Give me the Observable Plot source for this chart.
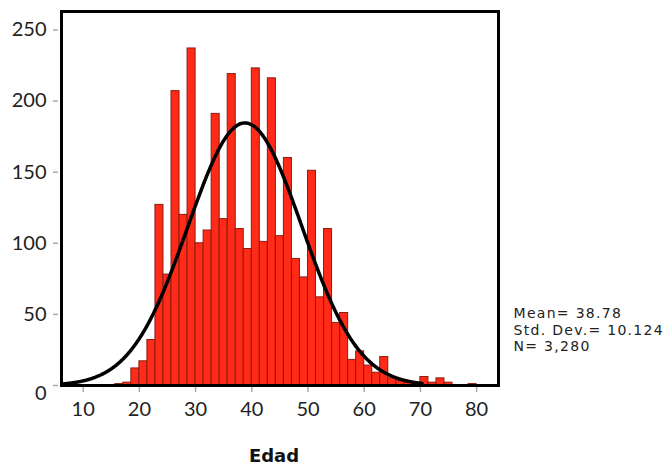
<!DOCTYPE html>
<html>
<head>
<meta charset="utf-8">
<script src="https://cdn.jsdelivr.net/npm/d3@7"></script>
<script src="https://cdn.jsdelivr.net/npm/@observablehq/plot@0.6"></script>
<style>
  html, body { margin: 0; padding: 0; background: #fff; }
  #chart { width: 669px; height: 466px; }
</style>
</head>
<body>
<div id="chart"></div>
<script>
// ---- data ----
const binFirstEdge = 20 - 3 * 10 / 7;   // lower edge of the first bin (≈15.71)
const binWidth = 10 / 7;                // ≈1.43 years per bar
const counts = [1, 2, 12, 17, 32, 127, 78, 207, 120, 237, 100, 109, 191, 117, 219, 110, 96,
                223, 101, 216, 105, 160, 89, 76, 151, 62, 110, 44, 51, 18, 24, 14, 9, 20,
                5, 3, 2, 1, 6, 2, 5, 2, 0, 0, 1];
const xTicks = [10, 20, 30, 40, 50, 60, 70, 80];
const yTicks = [0, 50, 100, 150, 200, 250];
const xTitle = "Edad";
const mean = 38.78, stdDev = 10.124, n = 3280;
const statsLines = ["Mean= 38.78", "Std. Dev.= 10.124", "N= 3,280"];
const curveRange = [6.2, 70.3];

// ---- tables for the library ----
const bars = counts.map((c, i) => ({
  x1: binFirstEdge + i * binWidth,
  x2: binFirstEdge + (i + 1) * binWidth,
  count: c
})).filter(d => d.count > 0);

// fitted normal curve from the stated mean, std. dev. and N
const scaleK = n * binWidth / (stdDev * Math.sqrt(2 * Math.PI));
const curve = d3.range(curveRange[0], curveRange[1] + 1e-9, 0.1).map(x => ({
  x, y: scaleK * Math.exp(-0.5 * ((x - mean) / stdDev) ** 2)
}));

const chart = Plot.plot({
  width: 669,
  height: 466,
  marginLeft: 61,
  marginRight: 171,
  marginTop: 11,
  marginBottom: 81,
  style: { fontFamily: "Lato, 'DejaVu Sans', sans-serif", background: "#fff", color: "#222" },
  x: { domain: [6.14, 83.9] },
  y: { domain: [0, 263] },
  marks: [
    Plot.rectY(bars, { x1: "x1", x2: "x2", y: "count", fill: "#ff2a17", stroke: "#8a1c12", strokeWidth: 1, inset: 0 }),
    Plot.line(curve, { x: "x", y: "y", stroke: "#000", strokeWidth: 3.5 }),
    Plot.frame({ stroke: "#000", strokeWidth: 3 }),
    // tick lines
    Plot.axisY({ ticks: yTicks, tickSize: 5, dx: -3, text: null, stroke: "#aaa", strokeWidth: 1.5, label: null }),
    Plot.axisX({ ticks: xTicks, tickSize: 5, dy: 2, text: null, stroke: "#aaa", strokeWidth: 1.5, label: null }),
    // tick labels
    Plot.axisY({ ticks: yTicks.filter(d => d !== 0), tickSize: 0, tickPadding: 15, fontSize: 20, label: null, fill: "#222" }),
    Plot.text([0], { y: d => d, frameAnchor: "left", dx: -15, dy: 8, textAnchor: "end", fontSize: 20, fill: "#222" }),
    Plot.axisX({ ticks: xTicks, tickSize: 0, tickPadding: 16, fontSize: 20, label: null, fill: "#222" }),
    // axis title
    Plot.text([xTitle], { frameAnchor: "bottom", dx: -6, dy: 76, fontSize: 18, fontWeight: "bold", fontFamily: "'DejaVu Sans', sans-serif", fill: "#111" }),
    // statistics
    Plot.text([statsLines.join("\n")], { frameAnchor: "top-right", dx: 15, dy: 295, textAnchor: "start", lineAnchor: "top", lineHeight: 1.18, fontSize: 14, fontFamily: "'DejaVu Sans', sans-serif", fill: "#222" })
  ]
});
// widen the statistics block to the reference's letter spacing
const textGroups = chart.querySelectorAll('g[aria-label="text"]');
const statsGroup = textGroups[textGroups.length - 1];
if (statsGroup) statsGroup.style.letterSpacing = "1.3px";
document.getElementById("chart").appendChild(chart);
</script>
</body>
</html>
